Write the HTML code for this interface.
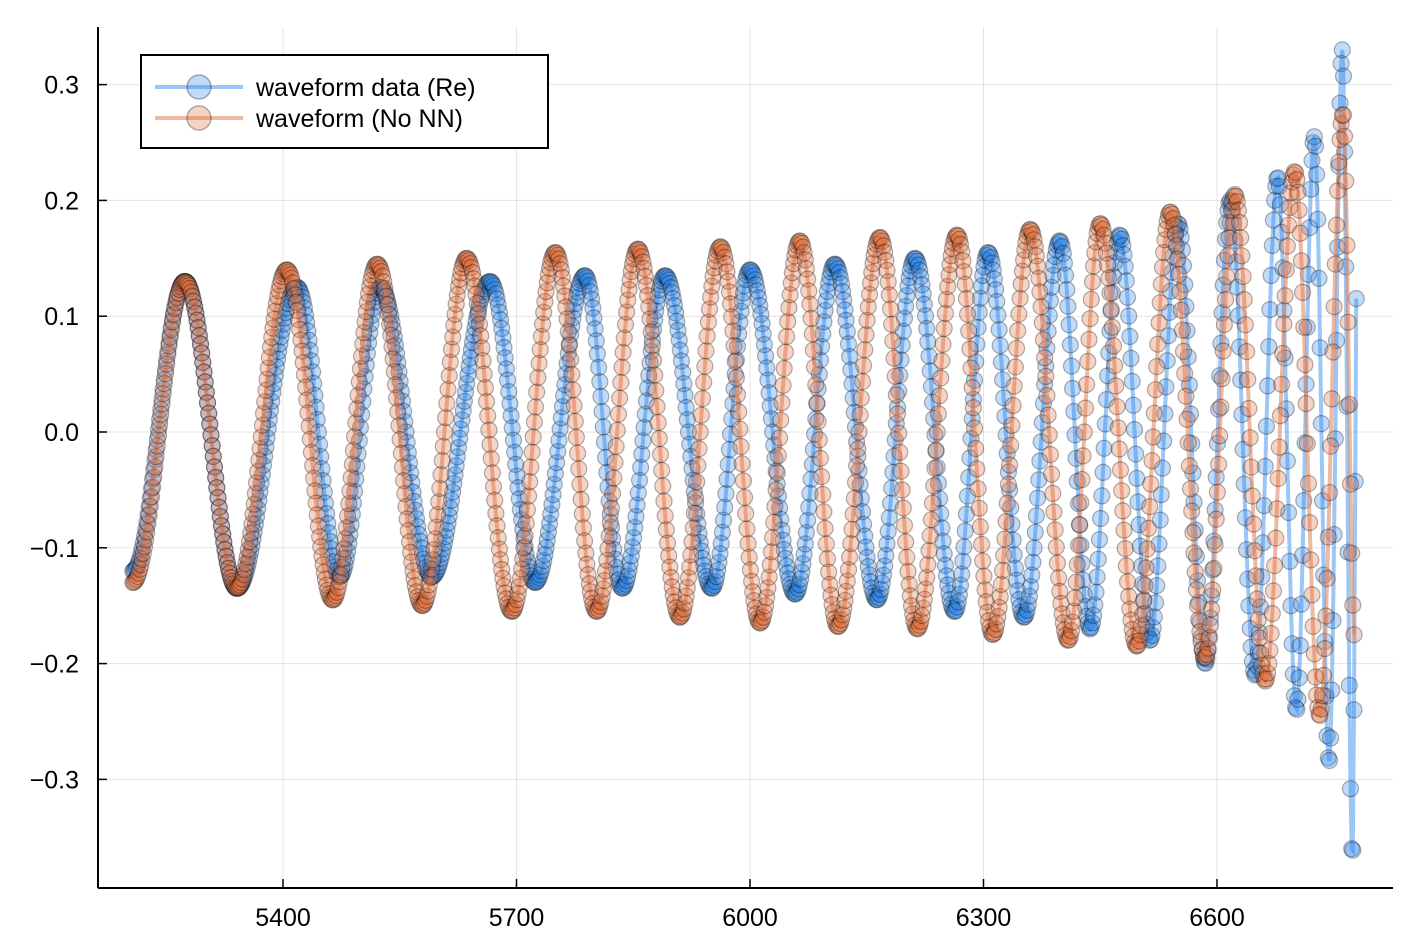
<!DOCTYPE html>
<html><head><meta charset="utf-8">
<style>
html,body{margin:0;padding:0;background:#fff;}
svg{display:block;font-family:"Liberation Sans","DejaVu Sans",sans-serif;}
</style></head>
<body>
<svg id="chart" width="1418" height="948" viewBox="0 0 1418 948" xmlns="http://www.w3.org/2000/svg">
<g id="grid"></g>
<g id="series"></g>
<g id="axes"></g>
<g id="legend">
  <rect x="141" y="55" width="407" height="93" fill="#fff" stroke="#000" stroke-width="2"/>
  <line x1="155" y1="87" x2="243" y2="87" stroke="#5aa0ee" stroke-opacity="0.6" stroke-width="4"/>
  <circle cx="199" cy="87" r="12" fill="#2f86e6" fill-opacity="0.3" stroke="#000" stroke-opacity="0.3" stroke-width="1.5"/>
  <text x="256" y="96" font-size="25">waveform data (Re)</text>
  <line x1="155" y1="118" x2="243" y2="118" stroke="#e08a66" stroke-opacity="0.6" stroke-width="4"/>
  <circle cx="199" cy="118" r="12" fill="#e2713f" fill-opacity="0.3" stroke="#000" stroke-opacity="0.3" stroke-width="1.5"/>
  <text x="256" y="127" font-size="25">waveform (No NN)</text>
</g>
</svg>
<script>
// Extrema (time, value), alternating trough/peak
const dataT = [5207,5274,5341,5418,5473,5525,5591,5666,5724,5788,5836,5891,5951,6000,6058,6109,6163,6212,6263,6306,6352,6398,6437,6475,6514,6550,6585,6617,6649,6678,6702,6725,6744,6761,6774,6780];
const dataV = [-0.12,0.13,-0.135,0.125,-0.125,0.125,-0.125,0.13,-0.13,0.135,-0.135,0.135,-0.135,0.14,-0.14,0.145,-0.145,0.15,-0.155,0.155,-0.16,0.165,-0.17,0.17,-0.18,0.18,-0.2,0.2,-0.21,0.22,-0.24,0.255,-0.285,0.33,-0.37,0.15];
const modelT = [5207,5274,5341,5405,5464,5521,5579,5636,5694,5750,5803,5856,5910,5962,6013,6064,6113,6167,6215,6266,6312,6360,6409,6450,6497,6540,6585,6623,6662,6700,6732,6762,6777];
const modelV = [-0.13,0.13,-0.135,0.14,-0.145,0.145,-0.15,0.15,-0.155,0.155,-0.155,0.158,-0.16,0.16,-0.165,0.165,-0.168,0.168,-0.17,0.17,-0.175,0.175,-0.18,0.18,-0.185,0.19,-0.195,0.205,-0.215,0.225,-0.245,0.275,-0.18];
const xTicks = [5400,5700,6000,6300,6600];
const yTicks = [-0.3,-0.2,-0.1,0.0,0.1,0.2,0.3];
const yTickLabels = ["\u22120.3","\u22120.2","\u22120.1","0.0","0.1","0.2","0.3"];

const NS="http://www.w3.org/2000/svg";
const X = t => 283 + (t-5400)*(233.5/300);
const Y = v => 432 - v*1158;
const L=98,R=1393,T=27,B=888;
function mk(tag,attrs,parent){const e=document.createElementNS(NS,tag);for(const k in attrs)e.setAttribute(k,attrs[k]);parent.appendChild(e);return e;}
const grid=document.getElementById('grid'),axes=document.getElementById('axes'),series=document.getElementById('series');
xTicks.forEach(t=>{
  const g=mk('line',{x1:X(t),x2:X(t),y1:T,y2:B,stroke:'#000','stroke-opacity':0.1,'stroke-width':1},grid);
  
  
  const k=mk('line',{x1:X(t),x2:X(t),y1:B,y2:B-9,stroke:'#000','stroke-width':1.5},axes);
  
  
  const tx=mk('text',{x:X(t),y:926,'text-anchor':'middle','font-size':25},axes);
  tx.textContent=t;
  
  
});
yTicks.forEach((v,i)=>{
  const g=mk('line',{x1:L,x2:R,y1:Y(v),y2:Y(v),stroke:'#000','stroke-opacity':0.1,'stroke-width':1},grid);
  
  
  const k=mk('line',{x1:L,x2:L+9,y1:Y(v),y2:Y(v),stroke:'#000','stroke-width':1.5},axes);
  
  
  const tx=mk('text',{x:79,y:Y(v)+9,'text-anchor':'end','font-size':25},axes);
  tx.textContent=yTickLabels[i];
  
  
});
const xa=mk('line',{x1:L,x2:R,y1:B,y2:B,stroke:'#000','stroke-width':2},axes);


const ya=mk('line',{x1:L,x2:L,y1:T,y2:B,stroke:'#000','stroke-width':2},axes);



function sample(ts,vs,step){
  const pts=[];
  for(let t=ts[0];t<=ts[ts.length-1]+0.001;t+=step){
    let i=0;while(i<ts.length-2&&t>ts[i+1])i++;
    const f=(t-ts[i])/(ts[i+1]-ts[i]);
    const v=vs[i]+(vs[i+1]-vs[i])*(1-Math.cos(Math.PI*Math.min(1,Math.max(0,f))))/2;
    pts.push([X(t),Y(v)]);
  }
  return pts;
}
function draw(ts,vs,lineCol,fillCol,name){
  const g=mk('g',{},series);
  
  
  const pts=sample(ts,vs,1.5);
  const p=mk('polyline',{points:pts.map(q=>q[0].toFixed(1)+','+q[1].toFixed(1)).join(' '),fill:'none',stroke:lineCol,'stroke-opacity':0.6,'stroke-width':4},g);
  
  
  pts.forEach(q=>{
    const c=mk('circle',{cx:q[0].toFixed(1),cy:q[1].toFixed(1),r:8,fill:fillCol,'fill-opacity':0.3,stroke:'#000','stroke-opacity':0.3,'stroke-width':1.2},g);
    
    
  });
}
draw(dataT,dataV,'#5aa0ee','#2f86e6','series-data');
draw(modelT,modelV,'#e08a66','#e2713f','series-model');
</script>
</body></html>
